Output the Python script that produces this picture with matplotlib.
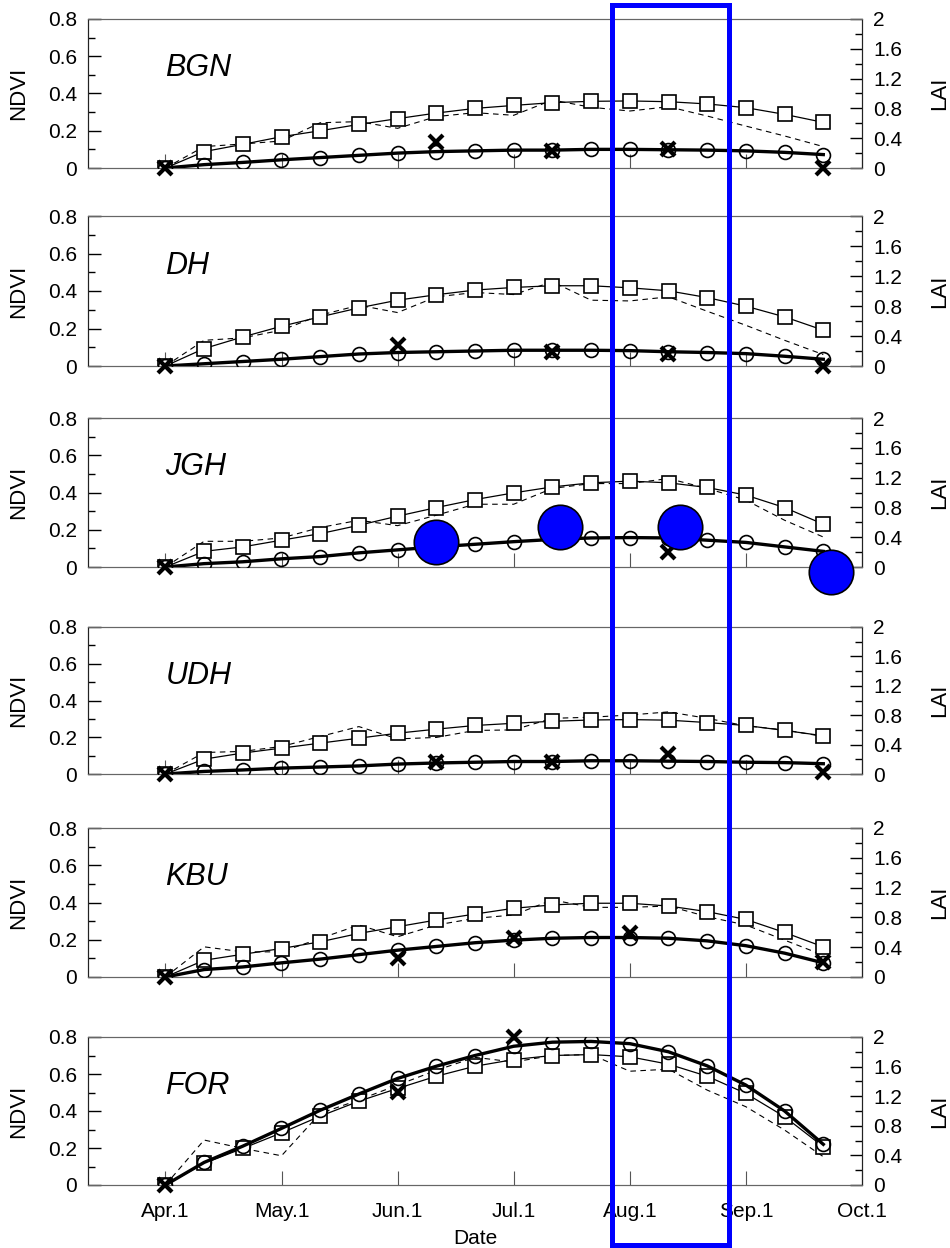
import matplotlib
matplotlib.use("Agg")
import matplotlib.pyplot as plt
from matplotlib.patches import Rectangle
from matplotlib.ticker import MultipleLocator, FuncFormatter

plt.rcParams['font.family'] = ['Liberation Sans', 'DejaVu Sans']

# days after Apr.1 (one value every 10 days)
days = [0, 10, 20, 30, 40, 50, 60, 70, 80, 90, 100, 110, 120, 130, 140, 150, 160, 170]
month_ticks = [0, 30, 60, 90, 120, 150, 180]
month_labels = ['Apr.1', 'May.1', 'Jun.1', 'Jul.1', 'Aug.1', 'Sep.1', 'Oct.1']
sites = ['BGN', 'DH', 'JGH', 'UDH', 'KBU', 'FOR']

# NDVI simulated (squares), NDVI observed (dashed)
ndvi_sim_bgn = [0, 0.088, 0.127, 0.168, 0.200, 0.234, 0.265, 0.295, 0.320, 0.336, 0.351, 0.358, 0.360, 0.356, 0.344, 0.324, 0.288, 0.245]
ndvi_obs_bgn = [0, 0.115, 0.129, 0.145, 0.243, 0.249, 0.213, 0.276, 0.297, 0.283, 0.365, 0.326, 0.306, 0.329, 0.279, 0.225, 0.172, 0.115]
ndvi_sim_dh = [0, 0.093, 0.155, 0.212, 0.262, 0.310, 0.351, 0.380, 0.405, 0.419, 0.428, 0.428, 0.417, 0.401, 0.365, 0.319, 0.262, 0.191]
ndvi_obs_dh = [0, 0.137, 0.150, 0.191, 0.271, 0.324, 0.285, 0.369, 0.392, 0.381, 0.449, 0.351, 0.347, 0.369, 0.292, 0.217, 0.137, 0.061]
ndvi_sim_jgh = [0, 0.084, 0.108, 0.144, 0.179, 0.224, 0.273, 0.319, 0.362, 0.398, 0.430, 0.452, 0.461, 0.452, 0.427, 0.386, 0.319, 0.230]
ndvi_obs_jgh = [0, 0.138, 0.138, 0.156, 0.212, 0.251, 0.222, 0.278, 0.337, 0.337, 0.422, 0.448, 0.448, 0.475, 0.422, 0.359, 0.251, 0.161]
ndvi_sim_udh = [0, 0.081, 0.114, 0.141, 0.168, 0.195, 0.222, 0.244, 0.264, 0.276, 0.287, 0.294, 0.296, 0.293, 0.280, 0.264, 0.237, 0.208]
ndvi_obs_udh = [0, 0.117, 0.123, 0.150, 0.204, 0.258, 0.191, 0.199, 0.237, 0.240, 0.303, 0.309, 0.321, 0.338, 0.303, 0.262, 0.240, 0.204]
ndvi_sim_kbu = [0, 0.090, 0.122, 0.153, 0.189, 0.234, 0.270, 0.306, 0.338, 0.369, 0.387, 0.396, 0.396, 0.381, 0.351, 0.309, 0.239, 0.162]
ndvi_obs_kbu = [0, 0.162, 0.135, 0.135, 0.207, 0.279, 0.216, 0.279, 0.315, 0.333, 0.414, 0.374, 0.374, 0.381, 0.324, 0.279, 0.198, 0.117]
ndvi_sim_for = [0, 0.117, 0.198, 0.282, 0.372, 0.453, 0.522, 0.588, 0.642, 0.678, 0.700, 0.705, 0.693, 0.653, 0.588, 0.495, 0.369, 0.207]
ndvi_obs_for = [0, 0.243, 0.198, 0.158, 0.387, 0.460, 0.540, 0.620, 0.690, 0.665, 0.700, 0.705, 0.615, 0.626, 0.513, 0.423, 0.297, 0.153]

# LAI simulated (circles, thick line)
lai_sim_bgn = [0, 0.045, 0.075, 0.11, 0.14, 0.17, 0.20, 0.22, 0.23, 0.24, 0.24, 0.25, 0.25, 0.245, 0.24, 0.23, 0.21, 0.18]
lai_sim_dh = [0, 0.03, 0.06, 0.09, 0.125, 0.16, 0.18, 0.19, 0.20, 0.21, 0.21, 0.21, 0.205, 0.19, 0.18, 0.165, 0.13, 0.09]
lai_sim_jgh = [0, 0.045, 0.07, 0.11, 0.14, 0.19, 0.23, 0.27, 0.305, 0.34, 0.37, 0.39, 0.395, 0.39, 0.36, 0.33, 0.27, 0.21]
lai_sim_udh = [0, 0.035, 0.055, 0.08, 0.095, 0.11, 0.135, 0.15, 0.16, 0.17, 0.17, 0.18, 0.18, 0.175, 0.17, 0.16, 0.155, 0.14]
lai_sim_kbu = [0, 0.10, 0.135, 0.19, 0.24, 0.30, 0.36, 0.41, 0.46, 0.495, 0.52, 0.53, 0.53, 0.52, 0.485, 0.42, 0.32, 0.19]
lai_sim_for = [0, 0.305, 0.525, 0.765, 1.01, 1.23, 1.44, 1.605, 1.75, 1.875, 1.93, 1.94, 1.91, 1.80, 1.61, 1.35, 1.0, 0.55]

# LAI observed (crosses)
lai_obs_day_bgn = [0, 70, 100, 130, 170]
lai_obs_bgn = [0, 0.345, 0.23, 0.25, 0.0]
lai_obs_day_dh = [0, 60, 100, 130, 170]
lai_obs_dh = [0, 0.285, 0.19, 0.155, 0.0]
lai_obs_day_jgh = [0, 130]
lai_obs_jgh = [0, 0.2]
lai_obs_day_udh = [0, 70, 100, 130, 170]
lai_obs_udh = [0, 0.16, 0.16, 0.27, 0.03]
lai_obs_day_kbu = [0, 60, 90, 120, 170]
lai_obs_kbu = [0, 0.26, 0.52, 0.59, 0.20]
lai_obs_day_for = [0, 60, 90]
lai_obs_for = [0, 1.26, 2.0]

# big blue dots drawn over the JGH panel
blue_day_jgh = [70, 102, 133, 172]
blue_lai_jgh = [0.335, 0.54, 0.54, -0.07]

panel_data = {
    'BGN': (ndvi_sim_bgn, ndvi_obs_bgn, lai_sim_bgn, lai_obs_day_bgn, lai_obs_bgn),
    'DH': (ndvi_sim_dh, ndvi_obs_dh, lai_sim_dh, lai_obs_day_dh, lai_obs_dh),
    'JGH': (ndvi_sim_jgh, ndvi_obs_jgh, lai_sim_jgh, lai_obs_day_jgh, lai_obs_jgh),
    'UDH': (ndvi_sim_udh, ndvi_obs_udh, lai_sim_udh, lai_obs_day_udh, lai_obs_udh),
    'KBU': (ndvi_sim_kbu, ndvi_obs_kbu, lai_sim_kbu, lai_obs_day_kbu, lai_obs_kbu),
    'FOR': (ndvi_sim_for, ndvi_obs_for, lai_sim_for, lai_obs_day_for, lai_obs_for),
}

W, H = 950, 1248
fig = plt.figure(figsize=(W / 100, H / 100), dpi=100)

# panel top / bottom in pixels
panel_px = [(19, 168), (216, 366), (418, 567), (627, 774), (828, 977), (1037, 1185)]
x0_px, x1_px = 88, 862

fmt = FuncFormatter(lambda v, p: '%g' % round(v, 2))

for i, site in enumerate(sites):
    top, bot = panel_px[i]
    ax = fig.add_axes([x0_px / W, 1 - bot / H, (x1_px - x0_px) / W, (bot - top) / H])
    ax2 = ax.twinx()
    ndvi_sim, ndvi_obs, lai_sim, obs_day, lai_obs = panel_data[site]

    ax.plot(days, ndvi_obs, color='black', lw=0.8, ls=(0, (5, 4)), zorder=2)
    ax.plot(days, ndvi_sim, color='black', lw=0.9, marker='s', ms=10, mfc='white',
            mec='black', mew=1.2, zorder=3)
    ax2.plot(days, lai_sim, color='black', lw=2.4, marker='o', ms=10, mfc='none',
             mec='black', mew=1.2, zorder=3)
    ax2.plot(obs_day, lai_obs, ls='none', marker='x', ms=10, mew=3, color='black',
             zorder=4, clip_on=False)
    if site == 'JGH':
        ax2.plot(blue_day_jgh, blue_lai_jgh, ls='none', marker='o', ms=32,
                 mfc='#0000ff', mec='black', mew=1.2, zorder=6, clip_on=False)

    ax.set_xlim(-20, 180)
    ax.set_ylim(0, 0.8)
    ax2.set_ylim(0, 2)

    ax.yaxis.set_major_locator(MultipleLocator(0.2))
    ax.yaxis.set_minor_locator(MultipleLocator(0.1))
    ax.yaxis.set_major_formatter(fmt)
    ax2.yaxis.set_major_locator(MultipleLocator(0.4))
    ax2.yaxis.set_minor_locator(MultipleLocator(0.2))
    ax2.yaxis.set_major_formatter(fmt)

    ax.set_xticks(month_ticks)
    if i == len(sites) - 1:
        ax.set_xticklabels(month_labels)
    else:
        ax.set_xticklabels([])

    ax.tick_params(axis='y', which='major', direction='in', length=9, width=1,
                   labelsize=15, pad=8, right=False)
    ax.tick_params(axis='y', which='minor', direction='in', length=5, width=1, right=False)
    ax.tick_params(axis='x', which='major', direction='in', length=10, width=0.8,
                   color='#555555', labelsize=15, pad=12, top=False)
    ax2.tick_params(axis='y', which='major', direction='in', length=9, width=1,
                    labelsize=15, pad=8, left=False)
    ax2.tick_params(axis='y', which='minor', direction='in', length=5, width=1, left=False)

    for a in (ax, ax2):
        a.spines['top'].set_color('#666666')
        a.spines['bottom'].set_color('#666666')
        a.spines['left'].set_color('#222222')
        a.spines['right'].set_color('#222222')

    ax.set_ylabel('NDVI', fontsize=16)
    ax.yaxis.set_label_coords(-0.076, 0.5)
    ax2.set_ylabel('LAI', fontsize=16)
    ax2.yaxis.set_label_coords(1.087, 0.5)

    ax.text(0.10, 0.67, site, transform=ax.transAxes, fontsize=22, style='italic',
            ha='left', va='center', zorder=10)

fig.text(475 / W, 1 - 1238 / H, 'Date', ha='center', va='center', fontsize=15)

rect = Rectangle((612 / W, 1 - 1245 / H), (729 - 612) / W, (1245 - 5) / H,
                 transform=fig.transFigure, fill=False, ec='#0000ff', lw=3.6, zorder=20)
fig.add_artist(rect)

fig.savefig('out.png', dpi=100)
